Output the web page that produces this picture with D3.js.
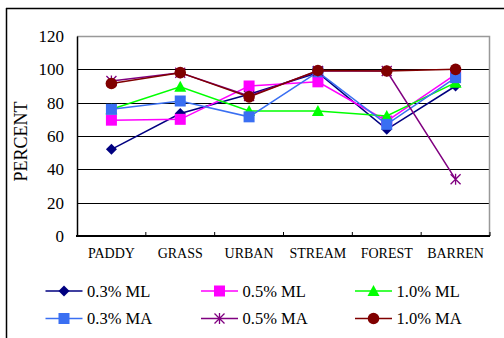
<!DOCTYPE html>
<html>
<head>
<meta charset="utf-8">
<script src="https://cdn.jsdelivr.net/npm/d3@7/dist/d3.min.js"></script>
<style>
  html, body { margin: 0; padding: 0; background: #fff; }
  svg { display: block; }
  svg text { font-family: "Liberation Serif", "Times New Roman", serif; }
</style>
</head>
<body>
<svg id="chart" width="504" height="338"></svg>
<script>
// Land cover classes along the x axis
const categories = ["PADDY", "GRASS", "URBAN", "STREAM", "FOREST", "BARREN"];

// Percent values per method
const ml03 = [52, 73.5, 85, 98, 64, 90];
const ml05 = [69.5, 70, 90, 92.5, 69, 97];
const ml10 = [76, 89.5, 75, 75, 72, 92];
const ma03 = [76, 81, 71.5, 98.5, 67, 95];
const ma05 = [93, 98, 84, 99, 99, 34];
const ma10 = [91.5, 98, 83.5, 99.3, 99, 100];

const seriesNames = ["0.3% ML", "0.5% ML", "1.0% ML", "0.3% MA", "0.5% MA", "1.0% MA"];
const yTicks = [0, 20, 40, 60, 80, 100, 120];

const FONT = "Liberation Serif, Times New Roman, serif";

const series = [
  { name: seriesNames[0], values: ml03, color: "#000080", marker: "diamond" },
  { name: seriesNames[1], values: ml05, color: "#ff00ff", marker: "square" },
  { name: seriesNames[2], values: ml10, color: "#00ff00", marker: "triangle" },
  { name: seriesNames[3], values: ma03, color: "#3a6ff2", marker: "square" },
  { name: seriesNames[4], values: ma05, color: "#800080", marker: "star" },
  { name: seriesNames[5], values: ma10, color: "#800000", marker: "circle" }
];

const svg = d3.select("#chart");

// Outer frame (top and left edges)
svg.append("line").attr("x1", 6).attr("x2", 504).attr("y1", 8.5).attr("y2", 8.5)
  .attr("stroke", "#000").attr("stroke-width", 1.5);
svg.append("line").attr("x1", 6.5).attr("x2", 6.5).attr("y1", 8).attr("y2", 338)
  .attr("stroke", "#000").attr("stroke-width", 1.5);

const plot = { left: 77, right: 490, top: 36, bottom: 236 };

const x = d3.scaleBand().domain(categories).range([plot.left, plot.right]);
const y = d3.scaleLinear().domain([0, 120]).range([plot.bottom, plot.top]);

// Gridlines
svg.append("g").selectAll("line").data(yTicks.filter(t => t > 0 && t < 120)).join("line")
  .attr("x1", plot.left).attr("x2", plot.right)
  .attr("y1", d => Math.round(y(d)) + 0.5).attr("y2", d => Math.round(y(d)) + 0.5)
  .attr("stroke", "#000").attr("stroke-width", 1);

// Plot border (top and right, grey)
svg.append("path")
  .attr("d", `M${plot.left},${plot.top + 0.5}H${plot.right - 0.5}V${plot.bottom}`)
  .attr("fill", "none").attr("stroke", "#999").attr("stroke-width", 1.5);

// Y axis
const yAxis = d3.axisLeft(y).tickValues(yTicks).tickSize(0).tickPadding(13);
const gy = svg.append("g").attr("transform", `translate(${plot.left},0)`).call(yAxis);
gy.attr("font-family", FONT);
gy.select(".domain").attr("stroke", "#000").attr("stroke-width", 1.5);
gy.selectAll("text").attr("font-size", 17).attr("fill", "#000").attr("font-family", FONT);

// X axis with inward ticks at category boundaries
svg.append("line").attr("x1", plot.left - 1).attr("x2", plot.right)
  .attr("y1", plot.bottom).attr("y2", plot.bottom)
  .attr("stroke", "#000").attr("stroke-width", 2);
const bounds = categories.map(c => x(c)).slice(1).concat([plot.right]);
svg.append("g").selectAll("line").data(bounds).join("line")
  .attr("x1", d => d).attr("x2", d => d)
  .attr("y1", plot.bottom).attr("y2", plot.bottom - 4)
  .attr("stroke", "#000").attr("stroke-width", 1);
svg.append("g").selectAll("text").data(categories).join("text")
  .attr("x", d => x(d) + x.bandwidth() / 2)
  .attr("y", 258)
  .attr("text-anchor", "middle")
  .attr("font-family", FONT)
  .attr("font-size", 14)
  .attr("fill", "#000")
  .text(d => d);

// Y axis title
svg.append("text")
  .attr("transform", "translate(27,141.5) rotate(-90)")
  .attr("text-anchor", "middle")
  .attr("font-family", FONT)
  .attr("font-size", 18)
  .attr("fill", "#000")
  .text("PERCENT");

// Marker drawing
function drawMarker(g, type, color, cx, cy) {
  if (type === "diamond") {
    g.append("path").attr("d", `M${cx},${cy - 5.5}L${cx + 5.5},${cy}L${cx},${cy + 5.5}L${cx - 5.5},${cy}Z`)
      .attr("fill", color);
  } else if (type === "square") {
    g.append("rect").attr("x", cx - 5.5).attr("y", cy - 5.5).attr("width", 11).attr("height", 11)
      .attr("fill", color);
  } else if (type === "triangle") {
    g.append("path").attr("d", `M${cx},${cy - 6}L${cx + 6},${cy + 5}L${cx - 6},${cy + 5}Z`)
      .attr("fill", color);
  } else if (type === "circle") {
    g.append("circle").attr("cx", cx).attr("cy", cy).attr("r", 5.8).attr("fill", color);
  } else if (type === "star") {
    const r = 5;
    g.append("path")
      .attr("d", `M${cx},${cy - r - 0.5}V${cy + r + 0.5}M${cx - r},${cy - r}L${cx + r},${cy + r}M${cx + r},${cy - r}L${cx - r},${cy + r}`)
      .attr("stroke", color).attr("stroke-width", 1.3).attr("fill", "none");
  }
}

// Series lines and markers
const line = d3.line()
  .x((d, i) => x(categories[i]) + x.bandwidth() / 2)
  .y(d => y(d));

series.forEach(s => {
  const g = svg.append("g");
  g.append("path").datum(s.values)
    .attr("d", line)
    .attr("fill", "none")
    .attr("stroke", s.color)
    .attr("stroke-width", 1.5);
  s.values.forEach((v, i) => {
    drawMarker(g, s.marker, s.color, x(categories[i]) + x.bandwidth() / 2, y(v));
  });
});

// Legend: two rows of three
const legendCols = [45.5, 201, 355];
const legendRows = [291, 318.5];
series.forEach((s, i) => {
  const lx = legendCols[i % 3];
  const ly = legendRows[Math.floor(i / 3)];
  const g = svg.append("g");
  g.append("line").attr("x1", lx).attr("x2", lx + 37).attr("y1", ly).attr("y2", ly)
    .attr("stroke", s.color).attr("stroke-width", 1.5);
  drawMarker(g, s.marker, s.color, lx + 18.5, ly);
  g.append("text").attr("x", lx + 41.5).attr("y", ly + 5.5)
    .attr("font-family", FONT)
    .attr("font-size", 16.5).attr("fill", "#000").text(s.name);
});
</script>
</body>
</html>
